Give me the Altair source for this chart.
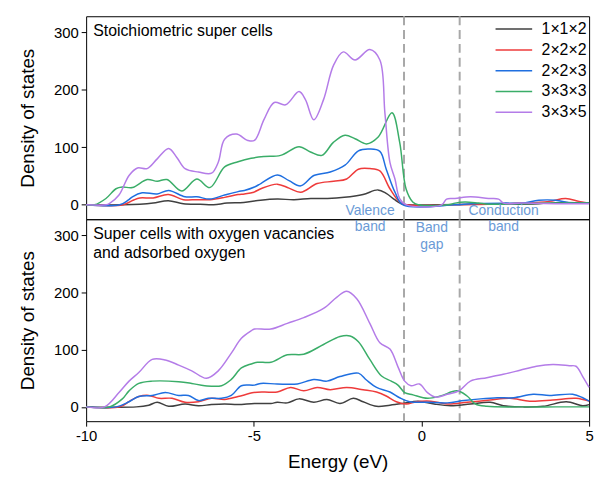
import altair as alt
import pandas as pd

# Super-cell sizes and their line colours
CELLS = ["1×1×2", "2×2×2", "2×2×3", "3×3×3", "3×3×5"]
COLORS = ["#404040", "#ee3b3b", "#1f6fe0", "#3aad68", "#b47ce8"]

# Band edges (eV)
BAND_EDGES = [-0.52, 1.14]

# ---- Stoichiometric super cells: (energy eV, DOS) ----
stoich_112 = [(-10, 0), (-8.9, 0), (-8.4, 1), (-8.0, 3), (-7.55, 7), (-7.1, 2), (-6.6, 1), (-6.2, 0),
              (-5.8, 3), (-5.3, 4), (-4.8, 8), (-4.3, 10), (-3.8, 9), (-3.3, 11), (-2.8, 11), (-2.3, 13),
              (-1.74, 18), (-1.3, 26), (-1.05, 20), (-0.8, 9), (-0.6, 2), (-0.4, 0), (0.5, 0), (1.5, 1),
              (2.5, 1), (3.5, 2), (4.2, 4), (5, 3)]
stoich_222 = [(-10, 0), (-8.9, 0), (-8.6, 8), (-8.4, 12), (-8.0, 12), (-7.55, 18), (-7.1, 9), (-6.7, 9),
              (-6.3, 9), (-5.87, 13), (-5.47, 18), (-5.28, 19), (-5.0, 22), (-4.79, 28), (-4.3, 36),
              (-3.95, 29), (-3.6, 22), (-3.11, 37), (-2.62, 41), (-2.23, 45), (-1.88, 62), (-1.54, 63),
              (-1.24, 59), (-0.94, 28), (-0.65, 5), (-0.45, 0), (1.0, 0), (2.0, 1), (3.0, 3), (3.8, 6),
              (4.3, 11), (4.7, 6), (5, 3)]
stoich_223 = [(-10, 0), (-9.0, 0), (-8.75, 8), (-8.62, 14), (-8.33, 21), (-7.88, 19), (-7.54, 25),
              (-7.05, 14), (-6.7, 14), (-6.31, 10), (-5.87, 17), (-5.47, 23), (-5.28, 25), (-4.98, 31),
              (-4.79, 37), (-4.3, 52), (-3.95, 42), (-3.6, 33), (-3.21, 51), (-2.72, 57), (-2.28, 69),
              (-1.88, 94), (-1.54, 97), (-1.24, 93), (-1.05, 62), (-0.79, 22), (-0.55, 0), (1.0, 0),
              (1.5, 2), (2.5, 3), (3.0, 3), (3.5, 8), (4.0, 8), (4.5, 3), (5, 3)]
stoich_333 = [(-10, 0), (-9.75, 0), (-9.41, 11), (-9.11, 28), (-8.92, 31), (-8.62, 30), (-8.18, 44),
              (-7.88, 41), (-7.59, 44), (-7.15, 24), (-6.7, 45), (-6.31, 30), (-5.87, 66), (-5.47, 75),
              (-5.08, 81), (-4.69, 84), (-4.2, 86), (-3.65, 101), (-3.31, 92), (-2.97, 86), (-2.62, 109),
              (-2.28, 121), (-1.98, 115), (-1.64, 106), (-1.29, 118), (-0.88, 160), (-0.65, 109),
              (-0.46, 28), (-0.26, 5), (-0.1, 0), (0.8, 0), (1.0, 3), (1.3, 5), (1.7, 3), (2.0, 1),
              (3.0, 2), (4.0, 3), (5, 3)]
stoich_335 = [(-10, 0), (-9.4, 0), (-9.31, 2), (-9.02, 17), (-8.72, 51), (-8.47, 64), (-8.18, 63),
              (-7.88, 80), (-7.54, 98), (-7.29, 82), (-7.05, 63), (-6.65, 57), (-6.26, 55), (-6.06, 74),
              (-5.87, 114), (-5.52, 123), (-5.18, 112), (-4.98, 112), (-4.69, 149), (-4.39, 178),
              (-4.05, 174), (-3.65, 197), (-3.46, 183), (-3.21, 148), (-2.92, 183), (-2.62, 243),
              (-2.33, 266), (-1.98, 252), (-1.54, 270), (-1.24, 252), (-1.09, 160), (-0.94, 74),
              (-0.79, 45), (-0.65, 11), (-0.45, 0), (0.6, 0), (0.75, 10), (1.0, 11), (1.46, 14),
              (2.0, 11), (2.3, 10), (2.45, 3), (3.0, 3), (4.0, 2), (5, 2)]

# ---- Super cells with oxygen vacancies and adsorbed oxygen ----
vac_112 = [(-10, 0), (-8.5, 0), (-8.13, 3), (-7.88, 8), (-7.54, 1), (-7.05, 5), (-6.65, 2), (-6.26, 4),
           (-5.87, 5), (-5.47, 4), (-4.98, 6), (-4.49, 6), (-4.3, 8), (-4.0, 7), (-3.65, 14), (-3.21, 8),
           (-2.82, 13), (-2.43, 6), (-2.03, 15), (-1.74, 9), (-1.34, 1), (-0.94, 3), (-0.55, 6),
           (-0.1, 10), (0.38, 5), (0.87, 2), (1.46, 5), (2.05, 8), (2.44, 2), (3.04, 0), (3.63, 1),
           (4.32, 9), (4.81, 2), (5, 4)]
vac_222 = [(-10, 0), (-9.0, 0), (-8.7, 10), (-8.43, 18), (-8.13, 20), (-7.83, 15), (-7.44, 15),
           (-7.05, 8), (-6.65, 9), (-6.26, 15), (-5.87, 13), (-5.47, 18), (-5.0, 25), (-4.69, 26),
           (-4.3, 26), (-3.9, 34), (-3.51, 28), (-3.11, 34), (-2.72, 30), (-2.23, 34), (-1.74, 30),
           (-1.34, 26), (-1.05, 19), (-0.75, 9), (-0.45, 5), (-0.15, 9), (0.28, 10), (0.77, 5),
           (1.36, 8), (2.05, 12), (2.64, 15), (3.23, 10), (3.92, 12), (4.61, 15), (5, 10)]
vac_223 = [(-10, 0), (-9.1, 0), (-8.72, 9), (-8.43, 18), (-8.03, 20), (-7.64, 25), (-7.24, 20),
           (-6.95, 20), (-6.65, 11), (-6.36, 15), (-5.96, 15), (-5.67, 20), (-5.37, 37), (-4.98, 38),
           (-4.79, 41), (-4.3, 40), (-3.7, 40), (-3.21, 48), (-2.82, 45), (-2.43, 53), (-1.88, 59),
           (-1.64, 47), (-1.34, 34), (-0.94, 26), (-0.65, 16), (-0.35, 9), (0.18, 8), (0.77, 7),
           (1.27, 11), (1.76, 14), (2.26, 16), (2.75, 16), (3.33, 22), (3.82, 20), (4.51, 22),
           (4.81, 16), (5, 10)]
vac_333 = [(-10, 0), (-9.3, 0), (-8.92, 14), (-8.72, 28), (-8.43, 41), (-8.03, 45), (-7.24, 44),
           (-6.85, 41), (-6.46, 37), (-5.96, 37), (-5.67, 48), (-5.37, 68), (-5.08, 75), (-4.89, 78),
           (-4.49, 78), (-4.0, 91), (-3.51, 92), (-2.92, 109), (-2.43, 123), (-2.13, 124),
           (-1.88, 114), (-1.54, 83), (-1.19, 54), (-0.9, 45), (-0.7, 38), (-0.5, 25), (-0.25, 21),
           (0.18, 15), (0.57, 19), (1.06, 28), (1.36, 19), (1.61, 5), (1.95, 1), (3.0, 0), (4.0, 0),
           (5, 0)]
vac_335 = [(-10, 0), (-9.45, 0), (-9.02, 25), (-8.72, 45), (-8.43, 60), (-8.03, 83), (-7.64, 82),
           (-7.24, 73), (-6.85, 63), (-6.41, 50), (-6.06, 63), (-5.67, 94), (-5.37, 120), (-5.08, 133),
           (-4.98, 136), (-4.49, 136), (-4.0, 146), (-3.51, 156), (-2.92, 172), (-2.52, 192),
           (-2.23, 202), (-1.93, 189), (-1.54, 146), (-1.24, 112), (-0.94, 101), (-0.7, 70),
           (-0.5, 45), (-0.31, 37), (-0.06, 40), (0.18, 25), (0.43, 17), (0.77, 22), (1.12, 28),
           (1.46, 45), (1.95, 51), (2.44, 57), (2.94, 64), (3.43, 71), (3.92, 74), (4.41, 72),
           (4.61, 71), (4.81, 53), (5, 34)]

STOICH = [stoich_112, stoich_222, stoich_223, stoich_333, stoich_335]
VACANCY = [vac_112, vac_222, vac_223, vac_333, vac_335]

# Panel captions and band annotations: (text, energy, DOS)
TOP_CAPTION = [("Stoichiometric super cells", -9.79, 302)]
BOTTOM_CAPTION = [("Super cells with oxygen vacancies", -9.79, 302), ("and adsorbed oxygen", -9.79, 268)]
TOP_BANDS = [("Valence", -1.53, -10), ("Conduction", 2.45, -10)]
BOTTOM_BANDS = [("band", -1.53, 314), ("Band", 0.31, 312), ("gap", 0.31, 282), ("band", 2.45, 314)]

FONT = "Liberation Sans"


def to_frame(series_list):
    rows = []
    for cell, pts in zip(CELLS, series_list):
        for e, d in pts:
            rows.append({"energy": e, "dos": d, "cell": cell})
    return pd.DataFrame(rows)


def notes_frame(items):
    return pd.DataFrame([{"label": t, "energy": e, "dos": d} for t, e, d in items])


x_scale = alt.Scale(domain=[-10, 5], nice=False, zero=False)
y_scale = alt.Scale(domain=[-25, 328], nice=False, zero=False)
color_scale = alt.Scale(domain=CELLS, range=COLORS)

y_axis = alt.Axis(values=[0, 100, 200, 300], title="Density of states", titleFontSize=19,
                  titleFontWeight="normal", titleFont=FONT, titlePadding=16, labelFont=FONT,
                  labelFontSize=15, labelColor="black", tickColor="black", tickSize=5,
                  labelPadding=3, grid=False, domain=False, titleColor="black", labelFlush=False)
x_axis = alt.Axis(values=[-10, -5, 0, 5], title="Energy (eV)", titleFontSize=19,
                  titleFontWeight="normal", titleFont=FONT, titlePadding=9, labelFont=FONT,
                  labelFontSize=15, labelColor="black", tickColor="black", tickSize=5,
                  labelPadding=3, grid=False, domain=False, titleColor="black",
                  labelFlush=False, labelExpr="'' + datum.value")

legend = alt.Legend(title=None, orient="none", legendX=424, legendY=5, padding=0,
                    symbolType="M-3,0H3", symbolSize=152, symbolStrokeWidth=1.5,
                    labelOffset=20, labelFontSize=16, labelFont=FONT, labelColor="black",
                    rowPadding=5)


def panel(series_list, captions, bands, bottom, height):
    df = to_frame(series_list)
    x_enc = alt.X("energy:Q", scale=x_scale, axis=x_axis if bottom else None)
    y_enc = alt.Y("dos:Q", scale=y_scale, axis=y_axis)
    lines = alt.Chart(df).mark_line(strokeWidth=1.5, interpolate="catmull-rom").encode(
        x=x_enc,
        y=y_enc,
        color=alt.Color("cell:N", scale=color_scale, legend=legend, sort=CELLS),
    )
    edges = alt.Chart(pd.DataFrame({"energy": BAND_EDGES})).mark_rule(
        color="#a8a8a8", strokeWidth=2, strokeDash=[9, 5]
    ).encode(x=x_enc)
    cap = alt.Chart(notes_frame(captions)).mark_text(
        align="left", baseline="middle", font=FONT, fontSize=16, color="black"
    ).encode(x=x_enc, y=y_enc, text="label:N")
    band = alt.Chart(notes_frame(bands)).mark_text(
        align="center", baseline="middle", font=FONT, fontSize=14, color="#6a9ad6"
    ).encode(x=x_enc, y=y_enc, text="label:N")
    return alt.layer(edges, lines, cap, band).properties(width=508, height=height)


top = panel(STOICH, TOP_CAPTION, TOP_BANDS, bottom=False, height=205)
bottom = panel(VACANCY, BOTTOM_CAPTION, BOTTOM_BANDS, bottom=True, height=204)

chart = alt.vconcat(top, bottom, spacing=0, bounds="flush").properties(
    padding={"left": 18, "top": 12, "right": 5, "bottom": 5},
    background="white",
).configure_view(stroke="black", strokeWidth=1)

chart.save("out.html", embed_options={"renderer": "svg", "actions": False})
